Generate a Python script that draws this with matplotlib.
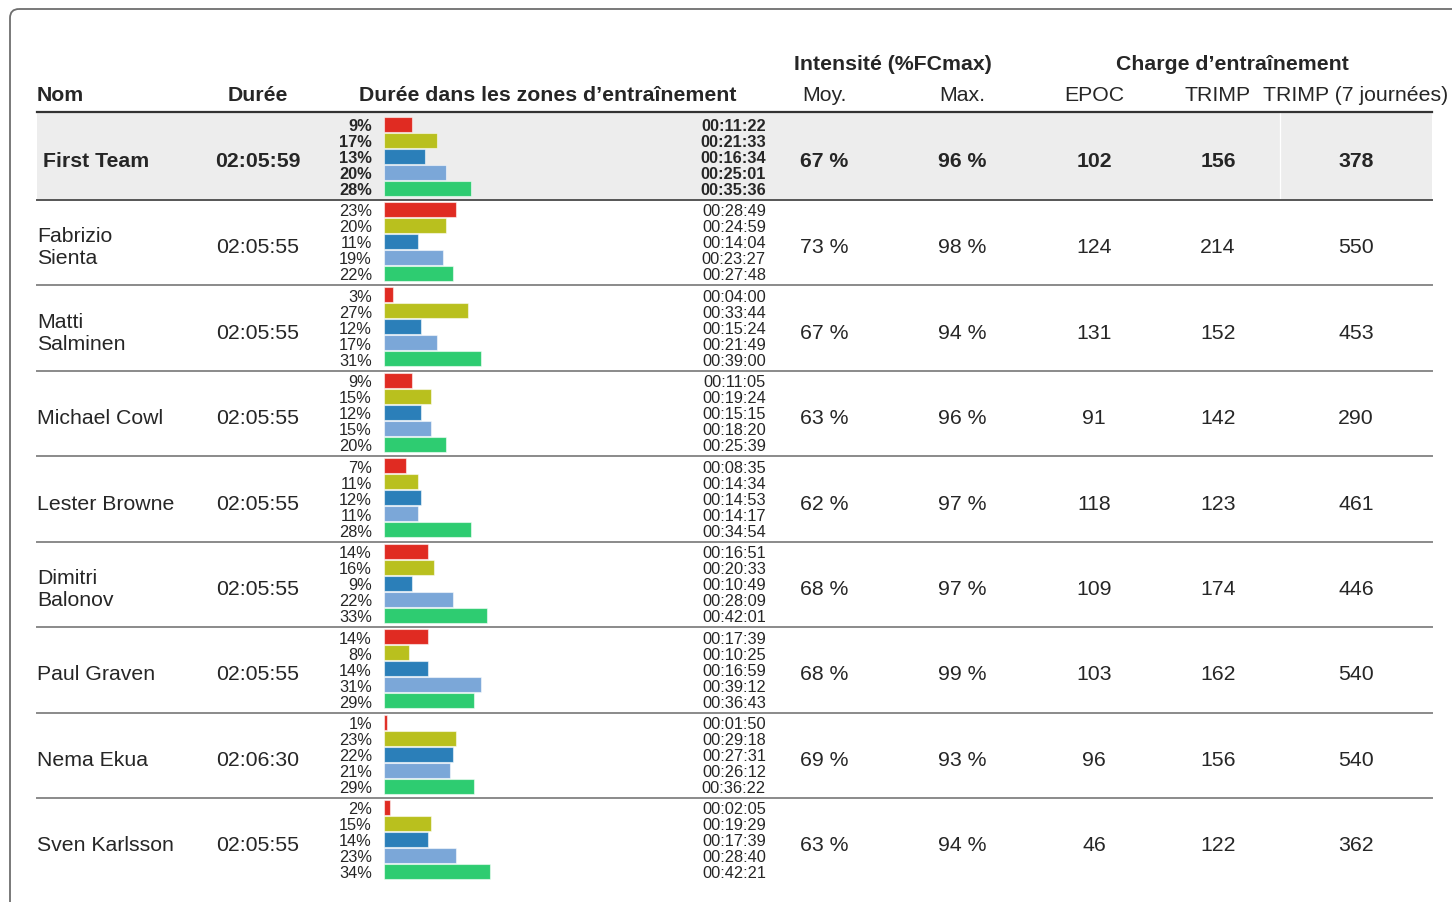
import numpy as np
import matplotlib
matplotlib.use("Agg")
import matplotlib.pyplot as plt
from matplotlib.patches import FancyBboxPatch, Rectangle

plt.rcParams['font.family'] = ['Liberation Sans', 'DejaVu Sans']

names = ["First Team", "Fabrizio\nSienta", "Matti\nSalminen", "Michael Cowl",
         "Lester Browne", "Dimitri\nBalonov", "Paul Graven", "Nema Ekua",
         "Sven Karlsson"]
durations = ["02:05:59", "02:05:55", "02:05:55", "02:05:55", "02:05:55",
             "02:05:55", "02:05:55", "02:06:30", "02:05:55"]
zone_pct = [
    [9, 17, 13, 20, 28],
    [23, 20, 11, 19, 22],
    [3, 27, 12, 17, 31],
    [9, 15, 12, 15, 20],
    [7, 11, 12, 11, 28],
    [14, 16, 9, 22, 33],
    [14, 8, 14, 31, 29],
    [1, 23, 22, 21, 29],
    [2, 15, 14, 23, 34],
]
zone_times = [
    ["00:11:22", "00:21:33", "00:16:34", "00:25:01", "00:35:36"],
    ["00:28:49", "00:24:59", "00:14:04", "00:23:27", "00:27:48"],
    ["00:04:00", "00:33:44", "00:15:24", "00:21:49", "00:39:00"],
    ["00:11:05", "00:19:24", "00:15:15", "00:18:20", "00:25:39"],
    ["00:08:35", "00:14:34", "00:14:53", "00:14:17", "00:34:54"],
    ["00:16:51", "00:20:33", "00:10:49", "00:28:09", "00:42:01"],
    ["00:17:39", "00:10:25", "00:16:59", "00:39:12", "00:36:43"],
    ["00:01:50", "00:29:18", "00:27:31", "00:26:12", "00:36:22"],
    ["00:02:05", "00:19:29", "00:17:39", "00:28:40", "00:42:21"],
]
hr_mean = [67, 73, 67, 63, 62, 68, 68, 69, 63]
hr_max = [96, 98, 94, 96, 97, 97, 99, 93, 94]
epoc = [102, 124, 131, 91, 118, 109, 103, 96, 46]
trimp = [156, 214, 152, 142, 123, 174, 162, 156, 122]
trimp7 = [378, 550, 453, 290, 461, 446, 540, 540, 362]

zone_colors = ["#e02b22", "#b9c01e", "#2b7fb9", "#7ba7d8", "#2ecc71"]
txt = "#262626"

fig = plt.figure(figsize=(14.52, 9.03), dpi=100)
ax = fig.add_axes([0, 0, 1, 1])
ax.set_xlim(0, 1452)
ax.set_ylim(903, 0)
ax.axis('off')

# rounded frame (runs off the right and bottom edges)
ax.add_patch(FancyBboxPatch((10, 10), 1500, 950, boxstyle="round,pad=0,rounding_size=9",
                            fill=False, ec="#6e6e6e", lw=1.3))

x0, x1 = 37, 1432
BIG = 15.3
SMALL = 11.8

def put(x, yc, s, size=BIG, bold=False, ha='center'):
    # place text by its cap-height centre
    base = yc + 0.716 * size * 100 / 72 / 2
    ax.text(x, base, s, ha=ha, va='baseline', fontsize=size, color=txt,
            fontweight='bold' if bold else 'normal')

# headers
put(893, 62, "Intensité (%FCmax)", bold=True)
put(1232, 62, "Charge d’entraînement", bold=True)
put(x0, 93, "Nom", bold=True, ha='left')
put(258, 93, "Durée", bold=True)
put(548, 93, "Durée dans les zones d’entraînement", bold=True)
put(824, 93, "Moy.")
put(962, 93, "Max.")
put(1094, 93, "EPOC")
put(1218, 93, "TRIMP")
put(1356, 93, "TRIMP (7 journées)")

# row geometry
row_h = (799 - 201) / 7
tops = [113] + [201 + i * row_h for i in range(8)]
bottoms = [201] + [201 + (i + 1) * row_h for i in range(8)]

# highlighted team row
ax.add_patch(Rectangle((x0, 114), x1 - x0, 86, color="#ededed", lw=0, zorder=0))
ax.plot([1280, 1280], [114, 200], color="white", lw=0.9, zorder=0.5)

px_per_pct = 3.12
bar_left = 384

for i in range(len(names)):
    top, bot = tops[i], bottoms[i]
    yc = (top + bot) / 2 + 2
    bold = i == 0
    # separator
    if i == 0:
        ax.plot([x0, x1], [113, 113], color="#333333", lw=1.6)
    else:
        ax.plot([x0, x1], [top, top], color="#555555" if i == 1 else "#8a8a8a", lw=1.4)

    # name
    lines = names[i].split("\n")
    if len(lines) == 1:
        put(x0 + (6 if bold else 0), yc, lines[0], bold=bold, ha='left')
    else:
        put(x0, yc - 11, lines[0], ha='left')
        put(x0, yc + 11, lines[1], ha='left')

    put(258, yc, durations[i], bold=bold)

    # zone bars
    first = top + (12 if i == 0 else 9.5)
    ys = first + 16 * np.arange(5)
    ax.barh(ys, np.array(zone_pct[i]) * px_per_pct, left=bar_left, height=15,
            color=zone_colors, edgecolor=(1, 1, 1, 0.55), linewidth=0.8, zorder=2)
    for k in range(5):
        put(372, ys[k], f"{zone_pct[i][k]}%", size=SMALL, bold=bold, ha='right')
        put(766, ys[k], zone_times[i][k], size=SMALL, bold=bold, ha='right')

    put(824, yc, f"{hr_mean[i]} %", bold=bold)
    put(962, yc, f"{hr_max[i]} %", bold=bold)
    put(1094, yc, str(epoc[i]), bold=bold)
    put(1218, yc, str(trimp[i]), bold=bold)
    put(1356, yc, str(trimp7[i]), bold=bold)

fig.savefig("out.png", dpi=100)
